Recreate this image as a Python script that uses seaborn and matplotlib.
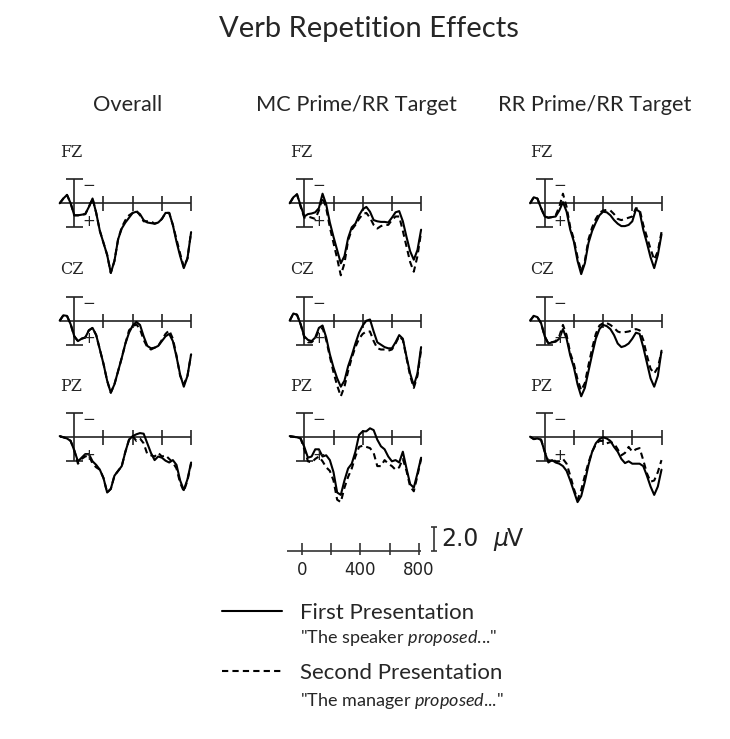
import numpy as np
import pandas as pd
import matplotlib
matplotlib.use('Agg')
import matplotlib.pyplot as plt
import seaborn as sns

# Sampling times (ms) of the waveforms
times = np.arange(-100, 801, 25)

# Amplitudes in microvolts (positive values plotted downward)
overall_fz_first = [0.0, -0.4, -0.7, 0.0, 1.0, 1.0, 0.95, 0.9, 0.3, -0.4, 0.8, 2.3, 3.3, 4.3, 5.8, 4.8, 3.0, 2.1, 1.6,
                    1.2, 0.8, 0.7, 0.9, 1.4, 1.6, 1.65, 1.7, 1.6, 1.3, 0.8, 0.8, 1.8, 3.2, 4.4, 5.4, 4.6, 2.4]
overall_fz_second = [0.0, -0.4, -0.7, 0.0, 1.0, 1.0, 0.95, 0.9, 0.3, -0.4, 0.8, 2.3, 3.3, 4.3, 5.8, 4.8, 3.0, 2.0, 1.4,
                     1.0, 0.8, 0.6, 1.0, 1.5, 1.5, 1.5, 1.7, 1.6, 1.3, 0.8, 0.8, 1.8, 3.0, 4.2, 5.3, 4.6, 2.4]
overall_cz_first = [0.0, -0.45, -0.4, 0.3, 1.3, 1.7, 1.5, 1.4, 0.8, 0.6, 1.2, 2.4, 3.6, 5.0, 6.0, 5.3, 4.2, 3.1, 1.9,
                    1.0, 0.4, 0.1, 0.35, 1.3, 2.1, 2.3, 2.25, 2.1, 1.7, 1.3, 1.1, 1.7, 3.0, 4.5, 5.5, 4.6, 2.8]
overall_cz_second = [0.0, -0.45, -0.4, 0.3, 1.3, 1.7, 1.5, 1.4, 0.8, 0.6, 1.2, 2.4, 3.6, 5.0, 6.0, 5.3, 4.2, 3.1, 1.9,
                     0.8, 0.5, 0.3, 0.7, 1.6, 2.2, 2.4, 2.25, 2.1, 1.6, 1.1, 0.8, 1.5, 2.9, 4.6, 5.3, 4.6, 2.8]
overall_pz_first = [-0.1, 0.0, 0.1, 0.3, 1.1, 2.0, 1.7, 1.4, 1.4, 2.0, 2.3, 2.7, 3.4, 4.6, 4.3, 3.2, 2.8, 2.4, 1.2,
                    0.2, -0.1, -0.25, -0.35, -0.3, 0.5, 1.3, 1.9, 1.6, 1.7, 1.95, 2.1, 1.9, 2.3, 3.6, 4.4, 3.5, 2.1]
overall_pz_second = [-0.1, 0.0, 0.1, 0.3, 1.1, 2.2, 1.8, 1.6, 1.5, 2.2, 2.5, 2.7, 3.4, 4.6, 4.3, 3.2, 2.8, 2.4, 1.2,
                     0.2, -0.1, 0.3, 0.1, 0.5, 1.4, 1.5, 1.6, 1.3, 1.6, 1.5, 1.8, 2.1, 2.6, 3.8, 4.5, 3.6, 2.2]

mc_fz_first = [0.0, -0.5, -0.75, 0.2, 1.1, 0.9, 0.85, 0.75, 0.4, -0.8, 0.1, 1.6, 2.8, 3.9, 5.0, 4.4, 2.9, 2.0, 1.7,
               1.0, 0.5, 0.3, 0.7, 1.4, 1.5, 1.55, 1.55, 1.6, 1.2, 0.75, 0.65, 1.5, 2.8, 4.0, 4.7, 3.9, 2.2]
mc_fz_second = [0.0, -0.5, -0.75, 0.3, 1.2, 1.1, 1.2, 1.3, 0.6, -0.5, 0.4, 2.0, 3.3, 4.6, 6.0, 5.0, 3.1, 2.2, 1.8,
                1.3, 0.9, 0.8, 1.2, 1.8, 2.1, 1.9, 1.8, 1.8, 1.4, 1.1, 1.1, 2.3, 3.6, 4.9, 5.7, 4.4, 2.4]
mc_cz_first = [0.0, -0.6, -0.5, 0.3, 1.3, 1.6, 1.7, 1.4, 0.6, 0.4, 1.4, 2.8, 3.9, 4.8, 5.5, 5.0, 3.8, 2.9, 1.9,
               1.0, 0.4, 0.0, -0.1, 0.9, 1.8, 2.0, 2.2, 2.3, 2.3, 1.8, 1.2, 1.5, 3.0, 4.4, 5.4, 4.4, 2.2]
mc_cz_second = [0.0, -0.6, -0.5, 0.3, 1.4, 1.8, 1.8, 1.5, 0.8, 0.6, 1.6, 3.0, 4.3, 5.4, 6.3, 5.5, 4.2, 3.1, 2.2,
                1.5, 1.1, 0.9, 0.9, 1.7, 2.3, 2.4, 2.4, 2.5, 2.4, 1.9, 1.3, 1.6, 3.1, 4.6, 5.6, 4.6, 2.4]
mc_pz_first = [-0.1, -0.05, 0.0, 0.1, 0.8, 1.7, 1.6, 1.0, 1.0, 1.6, 1.5, 1.9, 2.9, 4.6, 4.8, 3.6, 2.6, 2.2, 1.2,
               -0.2, -0.5, -0.5, -0.75, -0.6, 0.2, 0.75, 1.0, 1.6, 2.0, 1.9, 2.1, 1.2, 2.6, 3.9, 4.2, 3.0, 1.7]
mc_pz_second = [-0.1, -0.05, 0.0, 0.1, 1.0, 2.0, 2.1, 1.8, 1.6, 2.0, 2.5, 2.8, 3.6, 5.2, 5.4, 4.2, 3.3, 2.6, 1.6,
                0.8, 0.7, 0.8, 0.9, 1.3, 2.4, 2.4, 1.9, 2.2, 2.4, 2.7, 2.5, 1.8, 2.8, 4.1, 4.5, 3.2, 1.8]

rr_fz_first = [0.0, -0.5, -0.4, 0.4, 1.1, 1.2, 1.15, 1.1, 0.6, -0.1, 0.7, 2.2, 3.2, 4.8, 5.9, 5.0, 3.3, 2.3, 1.6,
               1.0, 0.7, 0.75, 1.0, 1.4, 1.7, 1.9, 1.9, 1.8, 1.5, 0.5, 0.7, 2.2, 3.3, 4.5, 5.4, 4.3, 2.6]
rr_fz_second = [0.0, -0.5, -0.4, 0.4, 1.1, 1.2, 1.15, 1.0, 0.3, -0.8, 0.3, 2.0, 3.0, 4.5, 5.7, 4.8, 3.0, 2.0, 1.3,
                0.8, 0.6, 0.55, 0.6, 0.9, 1.3, 1.4, 1.3, 1.2, 1.1, 0.4, 0.5, 1.8, 2.8, 3.8, 4.7, 4.0, 2.4]
rr_cz_first = [0.0, -0.4, -0.3, 0.2, 1.3, 1.9, 1.8, 1.75, 1.5, 0.7, 1.5, 2.9, 3.9, 5.3, 6.3, 5.6, 4.2, 2.8, 1.5,
               0.7, 0.35, 0.45, 0.7, 1.2, 1.9, 2.2, 2.1, 1.9, 1.5, 1.0, 1.1, 2.2, 3.5, 4.8, 5.5, 4.6, 2.5]
rr_cz_second = [0.0, -0.4, -0.3, 0.2, 1.3, 1.9, 1.8, 1.7, 1.3, 0.35, 1.2, 2.7, 3.6, 4.9, 5.8, 5.2, 3.7, 2.3, 1.1,
                0.4, 0.2, 0.2, 0.35, 0.6, 0.9, 1.0, 0.95, 0.9, 0.8, 0.7, 0.8, 1.6, 2.9, 4.0, 4.4, 3.9, 2.6]
rr_pz_first = [-0.05, 0.15, 0.1, 0.2, 1.2, 2.1, 1.9, 2.1, 2.2, 2.4, 2.8, 3.6, 4.5, 5.4, 4.9, 3.7, 2.3, 1.2, 0.5,
               0.15, 0.0, 0.1, 0.3, 0.8, 1.2, 1.8, 2.15, 2.0, 2.2, 2.2, 2.2, 2.4, 3.2, 4.1, 4.8, 4.1, 2.7]
rr_pz_second = [-0.05, 0.15, 0.1, 0.2, 1.2, 2.0, 1.8, 2.0, 2.0, 1.8, 2.2, 3.2, 4.3, 5.2, 4.4, 3.2, 2.1, 1.2, 0.6,
                0.3, 0.3, 0.5, 0.4, 0.5, 1.0, 1.5, 1.3, 0.8, 1.2, 1.0, 0.9, 1.9, 3.0, 3.7, 3.6, 2.9, 1.9]

conditions = ['Overall', 'MC Prime/RR Target', 'RR Prime/RR Target']
electrodes = ['FZ', 'CZ', 'PZ']
presentations = ['First Presentation', 'Second Presentation']
scale_ticks = [0, 200, 400, 600, 800]
scale_labels = ['0', '', '400', '', '800']

waves = {
    ('Overall', 'FZ'): (overall_fz_first, overall_fz_second),
    ('Overall', 'CZ'): (overall_cz_first, overall_cz_second),
    ('Overall', 'PZ'): (overall_pz_first, overall_pz_second),
    ('MC Prime/RR Target', 'FZ'): (mc_fz_first, mc_fz_second),
    ('MC Prime/RR Target', 'CZ'): (mc_cz_first, mc_cz_second),
    ('MC Prime/RR Target', 'PZ'): (mc_pz_first, mc_pz_second),
    ('RR Prime/RR Target', 'FZ'): (rr_fz_first, rr_fz_second),
    ('RR Prime/RR Target', 'CZ'): (rr_cz_first, rr_cz_second),
    ('RR Prime/RR Target', 'PZ'): (rr_pz_first, rr_pz_second),
}

sns.set_style('white')
plt.rcParams['font.family'] = ['Lato', 'DejaVu Sans']
plt.rcParams['mathtext.fontset'] = 'custom'
plt.rcParams['mathtext.rm'] = 'Lato'
plt.rcParams['mathtext.it'] = 'Lato:italic'

W, H = 730, 739
fig = plt.figure(figsize=(W / 100, H / 100), dpi=100)
fig.patch.set_facecolor('white')

PX_PER_MS = 0.146
PX_PER_UV = 12.0
XLIM = (-110, 815)
YLIM = (7.5, -3.5)   # negative up
AXC = '#222222'


def add_px_axes(zero_x, base_y):
    left = zero_x + XLIM[0] * PX_PER_MS
    top = base_y + YLIM[1] * PX_PER_UV
    w = (XLIM[1] - XLIM[0]) * PX_PER_MS
    h = (YLIM[0] - YLIM[1]) * PX_PER_UV
    ax = fig.add_axes([left / W, 1 - (top + h) / H, w / W, h / H])
    ax.set_xlim(*XLIM)
    ax.set_ylim(*YLIM)
    ax.set_facecolor('none')
    ax.axis('off')
    return ax


col_zero = [74.3, 304.3, 544.7]
row_base = [203.3, 320.7, 437.3]

legend_handles = None
for ci, cond in enumerate(conditions):
    for ri, elec in enumerate(electrodes):
        ax = add_px_axes(col_zero[ci], row_base[ri])
        first, second = waves[(cond, elec)]
        df = pd.DataFrame({
            'ms': np.concatenate([times, times]),
            'uV': np.concatenate([first, second]),
            'presentation': [presentations[0]] * len(times) + [presentations[1]] * len(times),
        })
        # axis cross
        ax.hlines(0, -100, 800, color=AXC, lw=1.2)
        ax.vlines(0, -2, 2, color=AXC, lw=1.2)
        ax.hlines([-2, 2], -60, 60, color=AXC, lw=1.2)
        ax.vlines([200, 400, 600, 800], -0.6, 0.6, color=AXC, lw=1.2)
        sns.lineplot(data=df, x='ms', y='uV', style='presentation', style_order=presentations,
                     dashes={presentations[0]: '', presentations[1]: (3, 2)},
                     color='black', lw=1.5, legend=False, ax=ax)
        for ln in ax.lines:
            ln.set_clip_on(False)
        ax.set_xlim(*XLIM)
        ax.set_ylim(*YLIM)
        ax.axis('off')
        ax.text(100, -1.45, '\u2212', ha='center', va='center', fontsize=11, family='DejaVu Sans', color=AXC)
        ax.text(100, 1.5, '+', ha='center', va='center', fontsize=11, family='DejaVu Sans', color=AXC)
        ax.text(-100, -4.25, elec, ha='left', va='center', fontsize=11.5, family='DejaVu Serif')
        if legend_handles is None:
            legend_handles = ax.lines[-2:]

# scale axes
SC = '#333333'
sax = add_px_axes(302, 551)
sax.hlines(0, -100, 880, color=SC, lw=1.2)
sax.vlines(scale_ticks, -0.65, 0.35, color=SC, lw=1.2)
for t, lab in zip(scale_ticks, scale_labels):
    if lab:
        sax.text(t, 1.6, lab, ha='center', va='center', fontsize=12, family='DejaVu Sans', color='#222222')
sax.vlines(905, -2, 0, color=SC, lw=1.2, clip_on=False)
sax.hlines([-2, 0], 885, 925, color=SC, lw=1.2, clip_on=False)
sax.text(955, -1.0, '2.0', ha='left', va='center', fontsize=17, family='DejaVu Sans', color='#222222')
sax.text(1310, -1.0, '\u00b5', ha='left', va='center', fontsize=17, family='DejaVu Sans',
         style='italic', color='#222222')
sax.text(1405, -1.0, 'V', ha='left', va='center', fontsize=17, family='DejaVu Sans', color='#222222')

# titles
fig.text(369 / W, 1 - 37 / H, 'Verb Repetition Effects', ha='center', va='baseline', fontsize=21)
title_x = [128, 356.5, 594.5]
for cx, cond in zip(title_x, conditions):
    fig.text(cx / W, 1 - 111 / H, cond, ha='center', va='baseline', fontsize=15.7)

# legend
leg = fig.legend(handles=legend_handles, labels=presentations, loc='upper left',
                 bbox_to_anchor=(222 / W, 1 - 603 / H), frameon=False, fontsize=16,
                 handlelength=2.7, handletextpad=0.8, labelspacing=1.8,
                 borderpad=0, borderaxespad=0)
fig.text(300 / W, 1 - 643 / H, '"The speaker $\\mathit{proposed}$..."', ha='left', va='baseline', fontsize=13)
fig.text(300 / W, 1 - 706 / H, '"The manager $\\mathit{proposed}$..."', ha='left', va='baseline', fontsize=13)

fig.savefig('out.png', dpi=100, facecolor='white')
